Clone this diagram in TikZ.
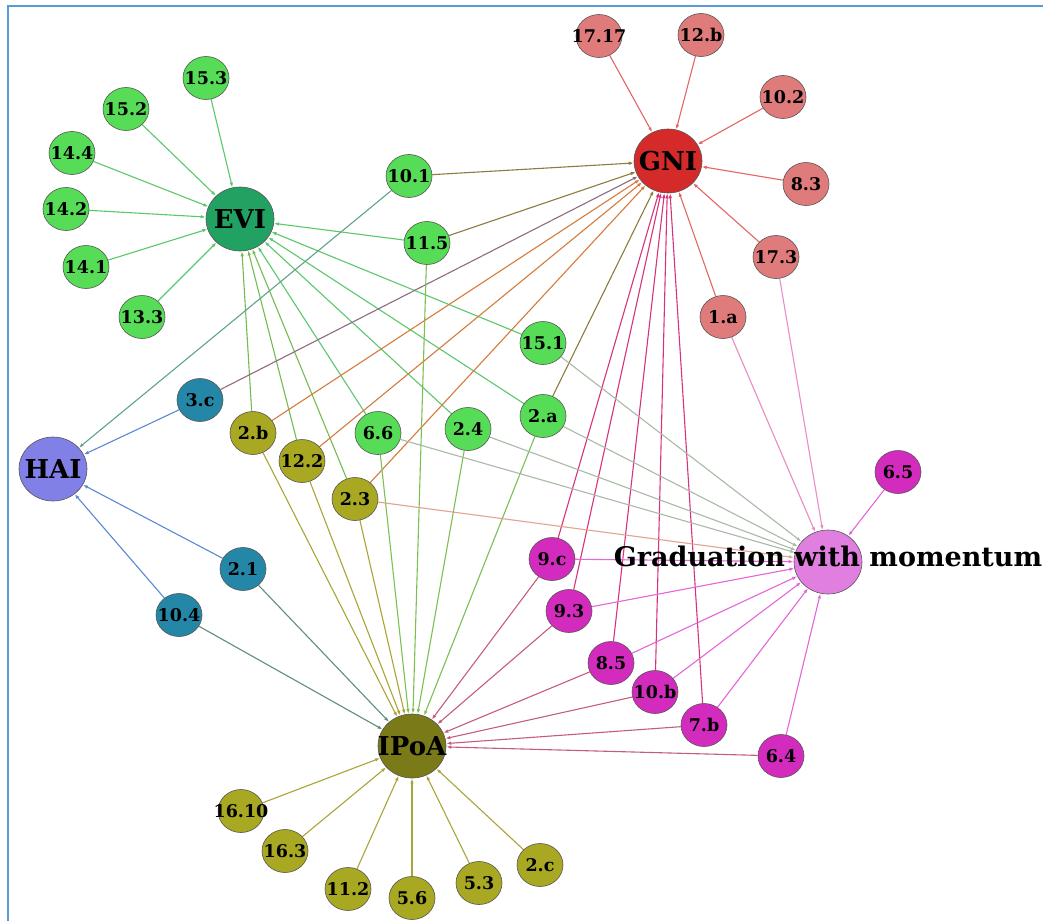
\documentclass[tikz,border=0pt]{standalone}
\usepackage{fontspec}
\setmainfont{DejaVu Serif}
\usetikzlibrary{shapes.geometric,arrows.meta,backgrounds}

% node fills
\definecolor{fEVI}{HTML}{22A262}
\definecolor{fGreen}{HTML}{56DC56}
\definecolor{fGNI}{HTML}{D42A2A}
\definecolor{fSalmon}{HTML}{E07B7B}
\definecolor{fHAI}{HTML}{8080E6}
\definecolor{fTeal}{HTML}{2487A8}
\definecolor{fIPoA}{HTML}{7B7A18}
\definecolor{fOlive}{HTML}{A8A822}
\definecolor{fGrad}{HTML}{E07FE0}
\definecolor{fMagenta}{HTML}{D42BBF}
\definecolor{nodeline}{HTML}{555555}
\definecolor{frame}{HTML}{5B9BD5}
% edge colours
\definecolor{eG}{HTML}{5BC86B}
\definecolor{eOG}{HTML}{74BC52}
\definecolor{eR}{HTML}{E36767}
\definecolor{eBr}{HTML}{8E7B3E}
\definecolor{eMv}{HTML}{8F6A82}
\definecolor{eOr}{HTML}{D57B3B}
\definecolor{eCr}{HTML}{D8327C}
\definecolor{eB}{HTML}{5A89D4}
\definecolor{eT}{HTML}{5FA38E}
\definecolor{eO}{HTML}{ABA537}
\definecolor{eGT}{HTML}{5F8F78}
\definecolor{eL}{HTML}{7DC052}
\definecolor{eRo}{HTML}{C55C80}
\definecolor{eGy}{HTML}{A9BAA6}
\definecolor{eSa}{HTML}{E4A28F}
\definecolor{ePk}{HTML}{E466D8}
\definecolor{eLp}{HTML}{EB8CC6}

\tikzset{
  sat/.style={ellipse, draw=nodeline, line width=0.6pt, minimum width=46pt, minimum height=43pt, inner sep=0pt},
  hub/.style={ellipse, draw=nodeline, line width=0.6pt, minimum width=68pt, minimum height=64pt, inner sep=0pt},
  tx/.style={font=\bfseries\fontsize{17.5}{17.5}\selectfont, inner sep=0pt, text=black},
  hubtx/.style={font=\bfseries\fontsize{26}{26}\selectfont, inner sep=0pt, text=black},
  link/.style={line width=1.1pt, -{Latex[length=5pt,width=3.5pt]}},
}

\begin{document}
\begin{tikzpicture}[x=1pt, y=-1pt]
\useasboundingbox (0,0) rectangle (1043,921);

% hubs
\node[hub, fill=fEVI,  label={[hubtx]center:EVI}]  (evi)  at (240,219) {};
\node[hub, fill=fGNI,  label={[hubtx]center:GNI}]  (gni)  at (668,161) {};
\node[hub, fill=fHAI,  label={[hubtx]center:HAI}]  (hai)  at (53,469) {};
\node[hub, fill=fIPoA, label={[hubtx]center:IPoA}] (ipoa) at (412,746) {};
\node[hub, fill=fGrad] (grad) at (828,562) {};

% EVI group
\node[sat, fill=fGreen, label={[tx]center:15.3}] (n153) at (206,78) {};
\node[sat, fill=fGreen, label={[tx]center:15.2}] (n152) at (126,109) {};
\node[sat, fill=fGreen, label={[tx]center:14.4}] (n144) at (72,153) {};
\node[sat, fill=fGreen, label={[tx]center:14.2}] (n142) at (66,209) {};
\node[sat, fill=fGreen, label={[tx]center:14.1}] (n141) at (86,267) {};
\node[sat, fill=fGreen, label={[tx]center:13.3}] (n133) at (142,317) {};
\node[sat, fill=fGreen, label={[tx]center:10.1}] (n101) at (409,176) {};
\node[sat, fill=fGreen, label={[tx]center:11.5}] (n115) at (427,243) {};
\node[sat, fill=fGreen, label={[tx]center:15.1}] (n151) at (543,343) {};
\node[sat, fill=fGreen, label={[tx]center:6.6}]  (n66)  at (378,433) {};
\node[sat, fill=fGreen, label={[tx]center:2.4}]  (n24)  at (468,429) {};
\node[sat, fill=fGreen, label={[tx]center:2.a}]  (n2a)  at (543,416) {};

% GNI group
\node[sat, fill=fSalmon, label={[tx]center:17.17}] (n1717) at (599,36) {};
\node[sat, fill=fSalmon, label={[tx]center:12.b}]  (n12b)  at (701,35) {};
\node[sat, fill=fSalmon, label={[tx]center:10.2}]  (n102)  at (783,97) {};
\node[sat, fill=fSalmon, label={[tx]center:8.3}]   (n83)   at (806,184) {};
\node[sat, fill=fSalmon, label={[tx]center:17.3}]  (n173)  at (776,257) {};
\node[sat, fill=fSalmon, label={[tx]center:1.a}]   (n1a)   at (723,317) {};

% HAI group
\node[sat, fill=fTeal, label={[tx]center:3.c}]  (n3c)  at (200,400) {};
\node[sat, fill=fTeal, label={[tx]center:2.1}]  (n21)  at (243,569) {};
\node[sat, fill=fTeal, label={[tx]center:10.4}] (n104) at (179,615) {};

% IPoA group
\node[sat, fill=fOlive, label={[tx]center:2.b}]   (n2b)   at (253,433) {};
\node[sat, fill=fOlive, label={[tx]center:12.2}]  (n122)  at (302,461) {};
\node[sat, fill=fOlive, label={[tx]center:2.3}]   (n23)   at (355,499) {};
\node[sat, fill=fOlive, label={[tx]center:16.10}] (n1610) at (241,811) {};
\node[sat, fill=fOlive, label={[tx]center:16.3}]  (n163)  at (285,851) {};
\node[sat, fill=fOlive, label={[tx]center:11.2}]  (n112)  at (348,889) {};
\node[sat, fill=fOlive, label={[tx]center:5.6}]   (n56)   at (412,898) {};
\node[sat, fill=fOlive, label={[tx]center:5.3}]   (n53)   at (479,883) {};
\node[sat, fill=fOlive, label={[tx]center:2.c}]   (n2c)   at (540,865) {};

% Graduation group
\node[sat, fill=fMagenta, label={[tx]center:6.5}]  (n65)  at (898,472) {};
\node[sat, fill=fMagenta, label={[tx]center:9.c}]  (n9c)  at (552,559) {};
\node[sat, fill=fMagenta, label={[tx]center:9.3}]  (n93)  at (569,611) {};
\node[sat, fill=fMagenta, label={[tx]center:8.5}]  (n85)  at (611,663) {};
\node[sat, fill=fMagenta, label={[tx]center:10.b}] (n10b) at (655,692) {};
\node[sat, fill=fMagenta, label={[tx]center:7.b}]  (n7b)  at (704,725) {};
\node[sat, fill=fMagenta, label={[tx]center:6.4}]  (n64)  at (781,756) {};

% label of the Graduation hub, set over its circle
\node[hubtx, font=\bfseries\fontsize{27}{27}\selectfont] (gradlabel) at (828,556) {Graduation with momentum};

\begin{scope}[on background layer]
  \fill[white] (0,0) rectangle (1043,921);
  \draw[frame, line width=2.4pt] (8,921) -- (8,6) -- (1043,6);
  % into EVI
  \foreach \s in {n153,n152,n144,n142,n141,n133,n115,n151,n2a,n24,n66}
    \draw[link, eG] (\s) -- (evi);
  \foreach \s in {n2b,n122,n23}
    \draw[link, eOG] (\s) -- (evi);
  % into GNI
  \foreach \s in {n1717,n12b,n102,n83,n173,n1a}
    \draw[link, eR] (\s) -- (gni);
  \foreach \s in {n101,n115,n2a}
    \draw[link, eBr] (\s) -- (gni);
  \draw[link, eMv] (n3c) -- (gni);
  \foreach \s in {n2b,n122,n23}
    \draw[link, eOr] (\s) -- (gni);
  \foreach \s in {n9c,n93,n85,n10b,n7b}
    \draw[link, eCr] (\s) -- (gni);
  % into HAI
  \foreach \s in {n3c,n21,n104}
    \draw[link, eB] (\s) -- (hai);
  \draw[link, eT] (n101) -- (hai);
  % into IPoA
  \foreach \s in {n1610,n163,n112,n56,n53,n2c,n2b,n122,n23}
    \draw[link, eO] (\s) -- (ipoa);
  \foreach \s in {n21,n104}
    \draw[link, eGT] (\s) -- (ipoa);
  \foreach \s in {n66,n115,n24,n2a}
    \draw[link, eL] (\s) -- (ipoa);
  \foreach \s in {n9c,n93,n85,n10b,n7b,n64}
    \draw[link, eRo] (\s) -- (ipoa);
  % into Graduation with momentum
  \foreach \s in {n151,n2a,n24,n66}
    \draw[link, eGy] (\s) -- (grad);
  \draw[link, eSa] (n23) -- (grad);
  \foreach \s in {n9c,n93,n85,n10b,n7b,n64,n65}
    \draw[link, ePk] (\s) -- (grad);
  \foreach \s in {n173,n1a}
    \draw[link, eLp] (\s) -- (grad);
\end{scope}
\end{tikzpicture}
\end{document}
